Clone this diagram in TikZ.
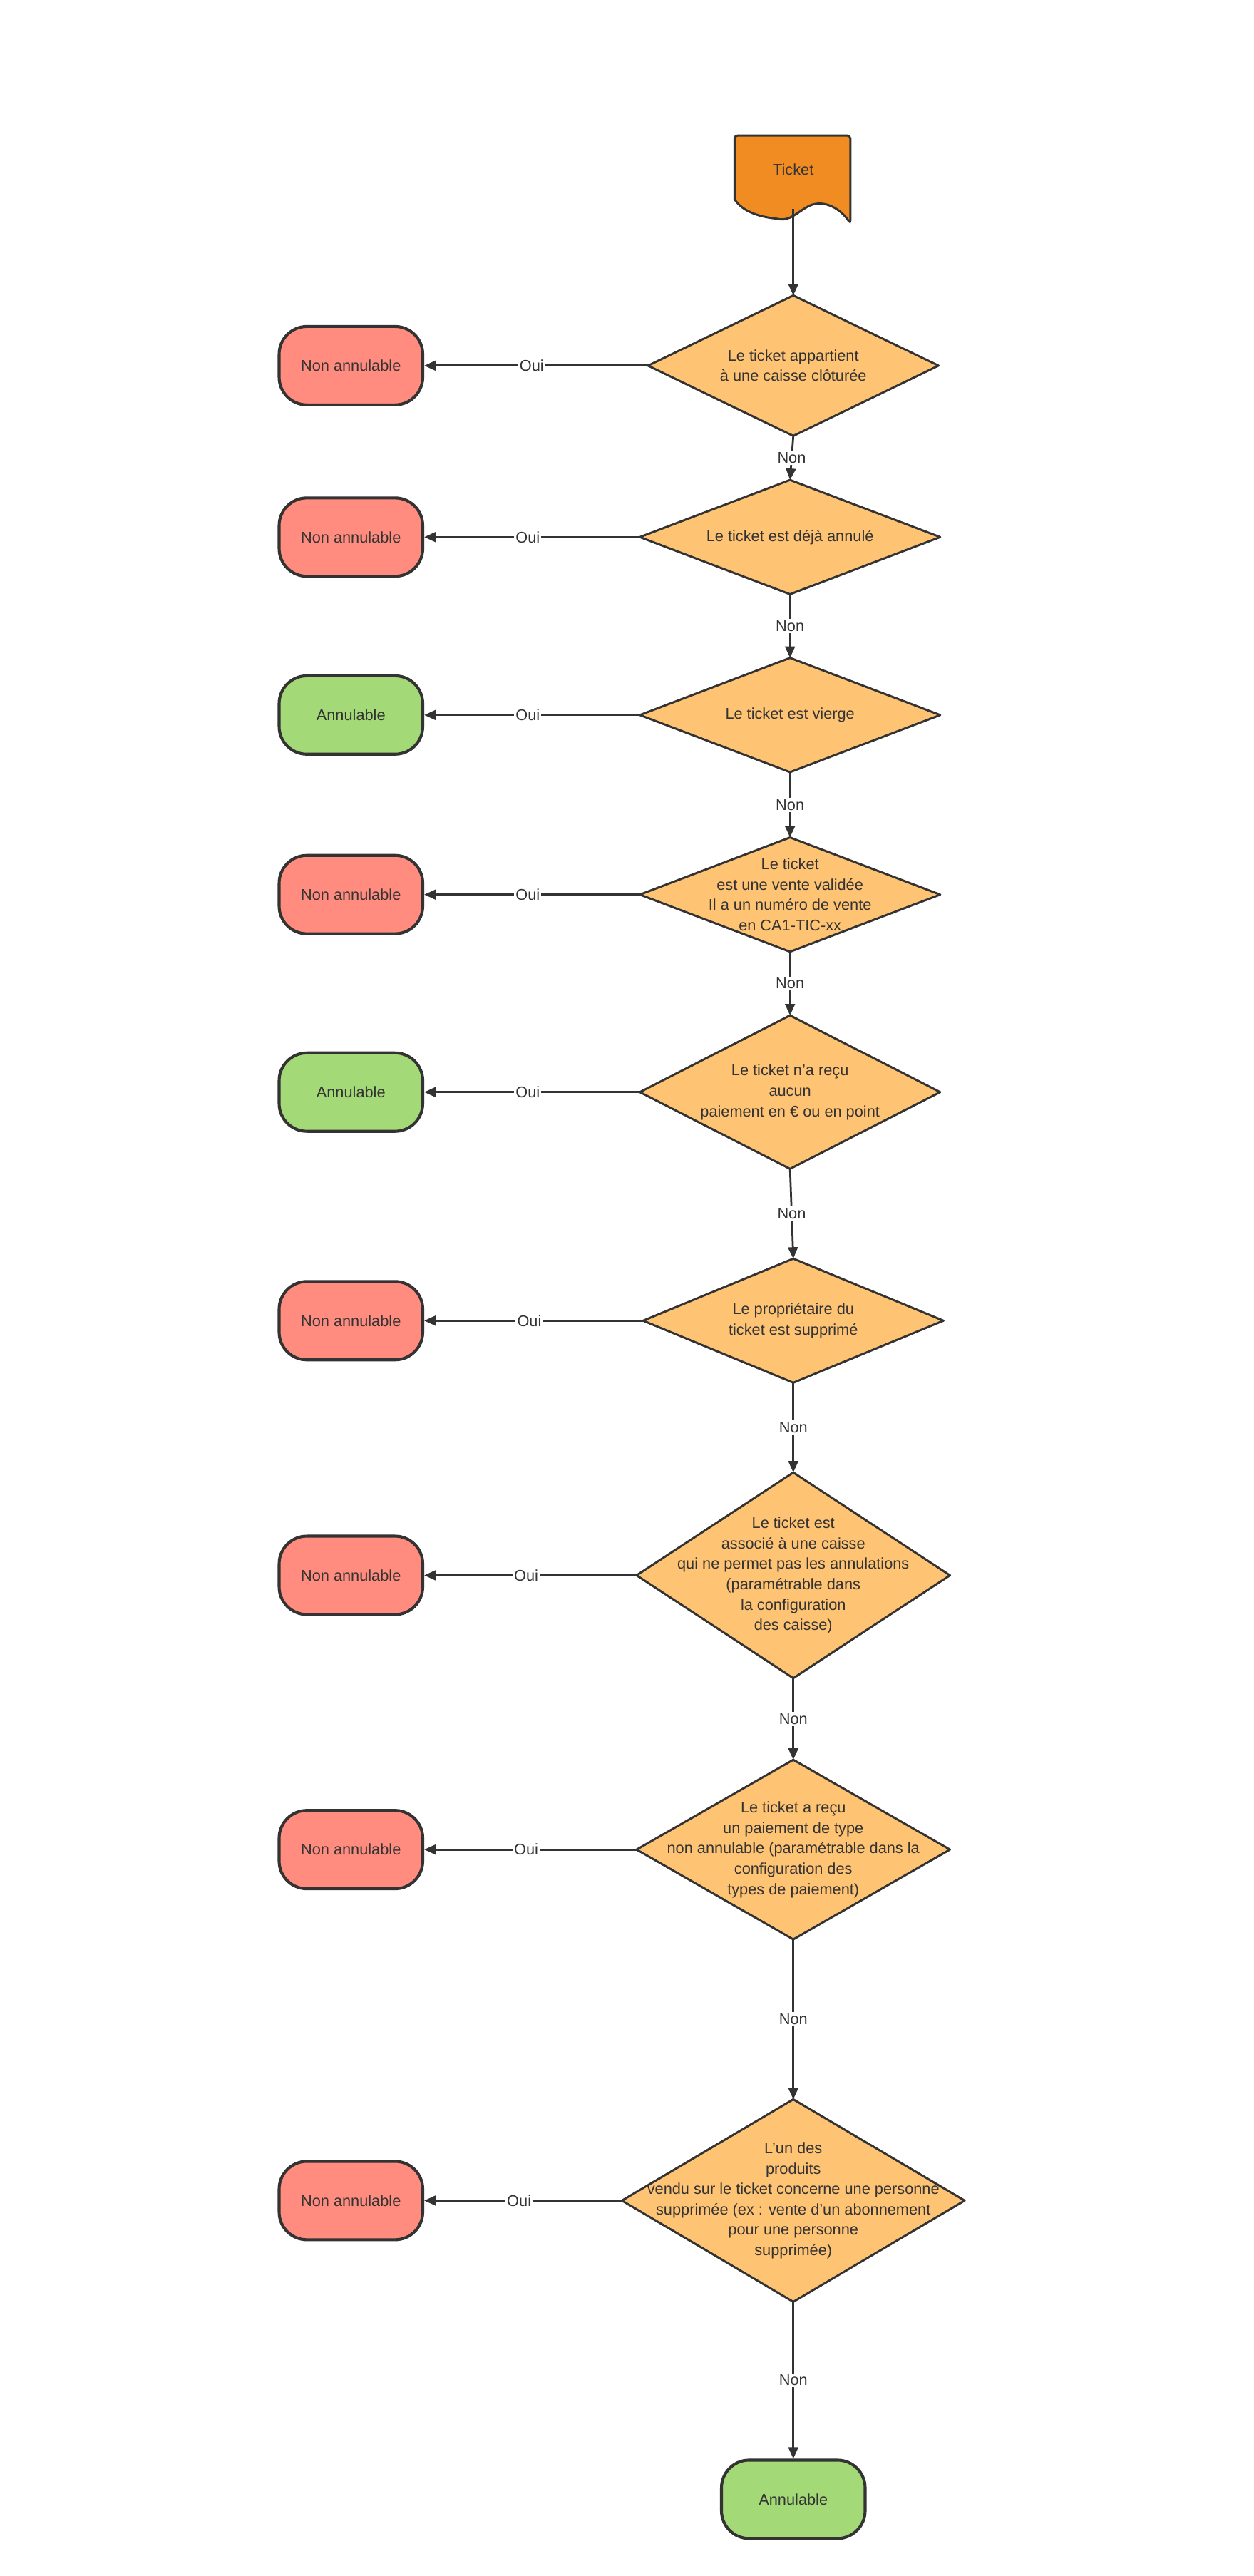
\documentclass[tikz,border=0pt]{standalone}
\usepackage{fontspec}
\setmainfont{Liberation Sans}
\usetikzlibrary{arrows.meta}
\definecolor{ln}{HTML}{333333}
\definecolor{dia}{HTML}{FFC374}
\definecolor{red}{HTML}{FF8C7F}
\definecolor{grn}{HTML}{A3D977}
\definecolor{org}{HTML}{F08C22}
\begin{document}
\begin{tikzpicture}[x=1pt,y=-1pt,
  every node/.style={font=\fontsize{9.5}{12.5}\selectfont, text=ln},
  term/.style={draw=ln, line width=1.8pt, rounded corners=17pt, minimum width=88pt, minimum height=48pt, inner sep=0pt},
  nok/.style={term, fill=red},
  ok/.style={term, fill=grn},
  dpath/.style={draw=ln, line width=1.3pt, fill=dia, line join=round},
  arr/.style={draw=ln, line width=1.2pt, -{Triangle[length=7pt,width=6pt]}},
  lab/.style={fill=white, inner sep=1pt}]
\useasboundingbox (0,0) rectangle (768,1578);
% Ticket
\draw[draw=ln, line width=1.3pt, fill=org, rounded corners=2pt] (450,83) -- (521,83) -- (521,137) [sharp corners] .. controls (515,128) and (505,122) .. (496,126) .. controls (488,130) and (484,136) .. (476,134) .. controls (466,133) and (455,130) .. (450,122) [rounded corners=2pt] -- cycle;
\node (t) at (486,104) {Ticket};
\coordinate (tb) at (486,128);
% diamonds: name, cx, cy, halfwidth, halfheight
\def\dmd#1#2#3#4#5#6{%
  \draw[dpath] (#2-#4,#3) -- (#2,#3-#5) -- (#2+#4,#3) -- (#2,#3+#5) -- cycle;
  \node[align=center, inner sep=0pt] (#1) at (#2,#3) {#6};
  \coordinate (#1t) at (#2,#3-#5); \coordinate (#1b) at (#2,#3+#5);
  \coordinate (#1l) at (#2-#4,#3);}
\dmd{d1}{486}{224}{89}{43}{Le ticket appartient\\à une caisse clôturée}
\dmd{d2}{484}{329}{92}{35}{Le ticket est déjà annulé}
\dmd{d3}{484}{438}{92}{35}{Le ticket est vierge}
\dmd{d4}{484}{548}{92}{35}{Le ticket\\est une vente validée\\Il a un numéro de vente\\en CA1-TIC-xx}
\dmd{d5}{484}{669}{92}{47}{Le ticket n'a reçu\\aucun\\paiement en € ou en point}
\dmd{d6}{486}{809}{92}{38}{Le propriétaire du\\ticket est supprimé}
\dmd{d7}{486}{965}{96}{63}{Le ticket est\\associé à une caisse\\qui ne permet pas les annulations\\(paramétrable dans\\la configuration\\des caisse)}
\dmd{d8}{486}{1133}{96}{55}{Le ticket a reçu\\un paiement de type\\non annulable (paramétrable dans la\\configuration des\\types de paiement)}
\dmd{d9}{486}{1348}{105}{62}{L'un des\\produits\\vendu sur le ticket concerne une personne\\supprimée (ex : vente d'un abonnement\\pour une personne\\supprimée)}
% terminals
\node[nok] (n1) at (215,224) {Non annulable};
\node[nok] (n2) at (215,329) {Non annulable};
\node[ok]  (n3) at (215,438) {Annulable};
\node[nok] (n4) at (215,548) {Non annulable};
\node[ok]  (n5) at (215,669) {Annulable};
\node[nok] (n6) at (215,809) {Non annulable};
\node[nok] (n7) at (215,965) {Non annulable};
\node[nok] (n8) at (215,1133) {Non annulable};
\node[nok] (n9) at (215,1348) {Non annulable};
\node[ok]  (fin) at (486,1531) {Annulable};
% connectors
\draw[arr] (tb) -- (d1t);
\foreach \i in {1,...,9}{\draw[arr] (d\i l) -- node[lab, pos=0.52]{Oui} (n\i.east);}
\foreach \a/\b in {1/2,2/3,3/4,4/5,5/6,6/7,7/8,8/9}{\draw[arr] (d\a b) -- node[lab]{Non} (d\b t);}
\draw[arr] (d9b) -- node[lab]{Non} (fin.north);
\end{tikzpicture}
\end{document}
